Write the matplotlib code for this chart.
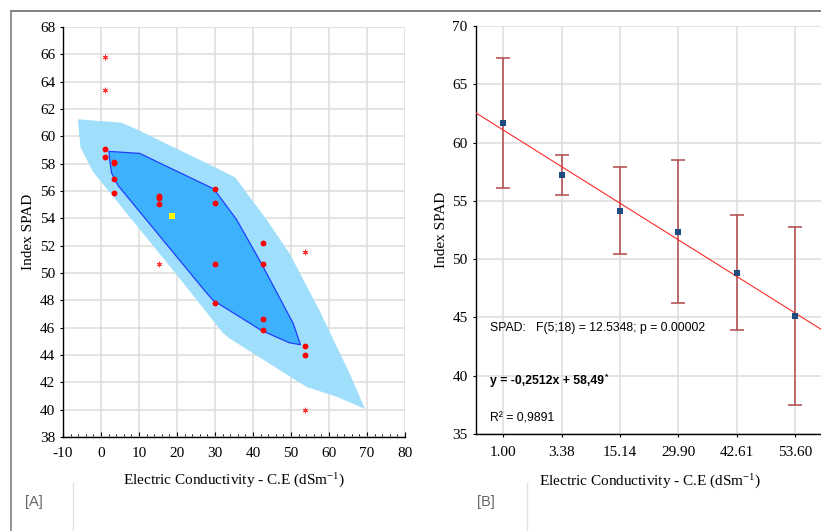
import numpy as np
import matplotlib
matplotlib.use("Agg")
import matplotlib.pyplot as plt
from matplotlib.lines import Line2D
from matplotlib.patches import Polygon

plt.rcParams["font.family"] = ["Liberation Serif", "DejaVu Serif"]
plt.rcParams["mathtext.default"] = "regular"

# ---- data -------------------------------------------------------------
ce_levels = [1.00, 3.38, 15.14, 29.90, 42.61, 53.60]
ce_labels = ["1.00", "3.38", "15.14", "29.90", "42.61", "53.60"]

# SPAD readings, four replicates per salinity level
spad_reps = [
    [59.07, 58.49, 65.80, 63.37],
    [58.12, 58.05, 56.88, 55.85],
    [55.62, 55.50, 55.03, 50.69],
    [56.15, 55.10, 50.66, 47.83],
    [52.17, 50.69, 46.61, 45.83],
    [44.68, 44.03, 51.54, 39.95],
]
# replicates flagged as outliers by the bagplot
outlier_flags = [
    [False, False, True, True],
    [False, False, False, False],
    [False, False, False, True],
    [False, False, False, False],
    [False, False, False, False],
    [False, False, True, True],
]

# bagplot geometry (Tukey depth median, bag and fence)
depth_median = (18.7, 54.15)
bag_x = [2.1, 10.2, 29.7, 35.7, 42.2, 50.6, 52.5, 49.5, 42.2, 29.5, 27.3, 4.5, 2.8, 2.3]
bag_y = [58.9, 58.75, 56.15, 53.9, 50.7, 46.3, 44.75, 44.9, 45.8, 48.0, 48.7, 56.4, 57.3, 58.2]
loop_x = [-6.1, 5.4, 9.5, 29.5, 35.3, 43.6, 49.7, 57.6, 65.5, 69.5, 62.0, 54.1,
          33.9, 32.1, 20.7, -2.1, -5.4]
loop_y = [61.25, 61.0, 60.5, 57.8, 57.0, 53.9, 51.4, 47.2, 42.6, 40.05, 40.95, 41.66,
          45.2, 45.6, 49.6, 57.4, 59.2]

# treatment means with error bars
spad_mean = [61.68, 57.22, 54.16, 52.36, 48.84, 45.12]
spad_err = [5.57, 1.75, 3.72, 6.16, 4.91, 7.62]

anova_text = "SPAD:   F(5;18) = 12.5348; p = 0.00002"
equation_text = "y = -0,2512x + 58,49"
r2_text = "R\u00b2 = 0,9891"

xlabel = "Electric Conductivity - C.E (dSm$^{-1}$)"
ylabel = "Index SPAD"

# ---- figure -----------------------------------------------------------
W, H = 821, 531
fig = plt.figure(figsize=(W / 100, H / 100), dpi=100)

def fx(px):
    return px / W

def fy(py):
    return 1 - py / H

grid_kw = dict(color="#dddddd", linewidth=1.1)
tick_font = 11

# ---- panel A: bagplot ---------------------------------------------------
axA = fig.add_axes([fx(63), fy(437), fx(405) - fx(63), fy(27) - fy(437)])
axA.set_xlim(-10, 80)
axA.set_ylim(38, 68)
axA.set_xticks(np.arange(-10, 81, 10))
axA.set_yticks(np.arange(38, 69, 2))
axA.set_xticks(np.arange(-10, 81, 2), minor=True)
axA.grid(True, which="major", **grid_kw)
axA.set_axisbelow(True)
for s in ("top", "right"):
    axA.spines[s].set_visible(False)
for s in ("left", "bottom"):
    axA.spines[s].set_linewidth(1.0)
axA.tick_params(axis="x", which="major", direction="in", length=3.5, width=0.8,
                pad=7, labelsize=tick_font)
axA.tick_params(axis="x", which="minor", direction="in", length=2, width=0.7)
axA.tick_params(axis="y", which="major", direction="out", length=2.5, width=0.8,
                pad=3, labelsize=tick_font)
axA.set_xticklabels([str(v) for v in range(-10, 81, 10)])

axA.add_patch(Polygon(np.column_stack([loop_x, loop_y]), closed=True,
                      facecolor="#a0dffb", edgecolor="none", zorder=1))
axA.add_patch(Polygon(np.column_stack([bag_x, bag_y]), closed=True,
                      facecolor="#3db1fb", edgecolor="#1f3fff", linewidth=0.9, zorder=2))

for ce, reps, flags in zip(ce_levels, spad_reps, outlier_flags):
    for v, out in zip(reps, flags):
        if out:
            axA.plot(ce, v, marker=(6, 2, 0), color="#ff3030", markersize=4.0,
                     markeredgewidth=0.6, linestyle="none", zorder=4)
        else:
            axA.plot(ce, v, marker="o", color="#ff0000", markersize=4.2,
                     markeredgewidth=0, linestyle="none", zorder=4)
axA.plot(*depth_median, marker="s", color="#ffff00", markersize=4.2,
         markeredgewidth=0, linestyle="none", zorder=5)

axA.set_xlabel(xlabel, fontsize=11, labelpad=9)
axA.set_ylabel(ylabel, fontsize=11, labelpad=4)

# ---- panel B: means with regression -----------------------------------
x_pos = np.arange(1, len(ce_levels) + 1)
axB = fig.add_axes([fx(476), fy(434), fx(824) - fx(476), fy(26) - fy(434)])
axB.set_xlim(0.53, 6.5)
axB.set_ylim(35, 70)
axB.set_xticks(x_pos)
axB.set_xticklabels(ce_labels)
axB.set_yticks(np.arange(35, 71, 5))
axB.grid(True, **grid_kw)
axB.set_axisbelow(True)
for s in ("top", "right"):
    axB.spines[s].set_visible(False)
for s in ("left", "bottom"):
    axB.spines[s].set_linewidth(1.0)
axB.tick_params(axis="both", direction="out", length=2.5, width=0.8, labelsize=tick_font)
axB.tick_params(axis="x", pad=6)

slope, intercept = np.polyfit(x_pos, spad_mean, 1)
xl = np.array(axB.get_xlim())
axB.plot(xl, slope * xl + intercept, color="#ff2a2a", linewidth=0.8, zorder=3)

eb = axB.errorbar(x_pos, spad_mean, yerr=spad_err, fmt="none", ecolor="#b04848",
                  elinewidth=1.1, capsize=5, capthick=1.1, zorder=2)
for cap in eb[1]:
    cap.set_color("#a32222")
axB.plot(x_pos, spad_mean, marker="s", linestyle="none", color="#1f4c80",
         markersize=5, markeredgewidth=0, zorder=4)

sans = ["Liberation Sans", "DejaVu Sans"]
axB.text(0.77, 44.1, anova_text, family=sans, fontsize=8.8, va="center", ha="left")
eq = axB.text(0.77, 39.55, equation_text, family=sans, fontsize=8.8,
              fontweight="bold", va="center", ha="left")
axB.text(0.77, 36.3, r2_text, family=sans, fontsize=8.8, va="center", ha="left")
fig.canvas.draw()
bb = eq.get_window_extent()
fig.text(bb.x1 / W + 0.001, (bb.y1 - 2) / H, "*", family=sans, fontsize=6,
         fontweight="bold", va="center", ha="left")

axB.set_xlabel(xlabel, fontsize=11, labelpad=10)
axB.set_ylabel(ylabel, fontsize=11, labelpad=3)

# ---- frame and panel tags ---------------------------------------------
fig.add_artist(Line2D([fx(11), 1], [fy(11), fy(11)], color="#808080", linewidth=1.4))
fig.add_artist(Line2D([fx(11), fx(11)], [fy(11), 0], color="#808080", linewidth=1.2))
fig.add_artist(Line2D([fx(73), fx(73)], [fy(483), 0], color="#e2e2e2", linewidth=1.0))
fig.add_artist(Line2D([fx(527), fx(527)], [fy(483), 0], color="#e2e2e2", linewidth=1.0))
fig.text(fx(25), fy(502), "[A]", family=sans, fontsize=10.5, color="#666666",
         va="center", ha="left")
fig.text(fx(477), fy(502), "[B]", family=sans, fontsize=10.5, color="#666666",
         va="center", ha="left")

fig.savefig("out.png", dpi=100)
